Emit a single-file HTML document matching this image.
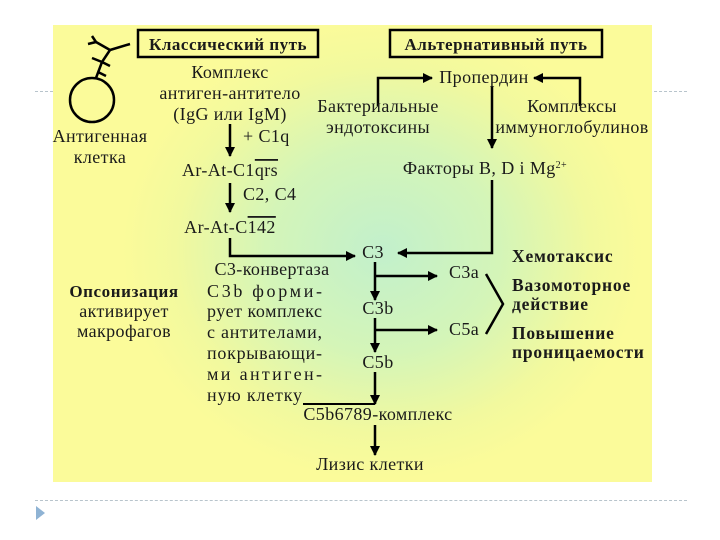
<!DOCTYPE html>
<html><head><meta charset="utf-8"><style>
body{margin:0;width:720px;height:540px;background:#fff;position:relative;overflow:hidden;font-family:"Liberation Serif","Noto Serif CJK SC",serif;}
.dash{position:absolute;left:35px;width:652px;border-top:1px dashed #b8c4cc;}
#panel{position:absolute;left:53px;top:25px;width:599px;height:457px;
background:radial-gradient(ellipse 260px 230px at 330px 225px,#c2f0cc 0%,#d4f5b8 45%,#f2f99e 80%,#fbfb9a 100%);}
svg{position:absolute;left:0;top:0}
text{font-family:"Liberation Serif",serif;fill:#1a1a1a}
.ov{text-decoration:overline}
</style></head><body>
<div class="dash" style="top:91px"></div>
<div class="dash" style="top:500px"></div>
<div style="position:absolute;left:36px;top:506px;width:0;height:0;border-top:7px solid transparent;border-bottom:7px solid transparent;border-left:9px solid #8fb3d4"></div>
<div id="panel"></div>
<svg width="720" height="540">
<defs><marker id="a" markerWidth="10" markerHeight="10" refX="9" refY="5" orient="auto" markerUnits="userSpaceOnUse"><path d="M0,0 L10,5 L0,10 z" fill="#000"/></marker></defs>
<g stroke="#000" stroke-width="2.5" fill="none">
<rect x="138" y="30" width="180" height="27"/>
<rect x="390" y="30" width="212" height="27"/>
<circle cx="92" cy="100" r="22" stroke-width="2.5"/>
<path d="M96,78 L102,62 L110,50 L130,44 M102,62 L92,58 M110,50 L96,42 L92,36 M96,42 L88,44 M102,62 L110,66 M98,72 L106,76"/>
<g marker-end="url(#a)">
<path d="M230,124 V156"/>
<path d="M230,183 V212"/>
<path d="M230,238 V256 H355"/>
<path d="M378,106 V78 H432"/>
<path d="M580,106 V78 H534"/>
<path d="M492,86 V148"/>
<path d="M492,180 V253 H398"/>
<path d="M375,262 V300"/>
<path d="M375,276 H437"/>
<path d="M375,318 V352"/>
<path d="M375,330 H437"/>
<path d="M375,372 V404"/>
<path d="M375,425 V455"/>
</g>
<path d="M303,404 H375" stroke-width="2"/>
<path d="M486,274 L503,304 L486,334" stroke-width="2.5"/>
</g>
<g font-size="18" letter-spacing="0.4">
<text x="228" y="50" text-anchor="middle" font-weight="bold" font-size="17" letter-spacing="0.5">Классический путь</text>
<text x="496" y="50" text-anchor="middle" font-weight="bold" font-size="17" letter-spacing="0.5">Альтернативный путь</text>
<g text-anchor="middle">
<text x="230" y="78">Комплекс</text>
<text x="230" y="99">антиген-антитело</text>
<text x="230" y="120">(IgG или IgM)</text>
<text x="100" y="142">Антигенная</text>
<text x="100" y="163">клетка</text>
<text x="230" y="176">Ar-At-C1<tspan class="ov">qrs</tspan></text>
<text x="230" y="233">Ar-At-C<tspan class="ov">142</tspan></text>
<text x="272" y="275">C3-конвертаза</text>
<text x="484" y="83">Пропердин</text>
<text x="378" y="112">Бактериальные</text>
<text x="378" y="133">эндотоксины</text>
<text x="572" y="112">Комплексы</text>
<text x="572" y="133">иммуноглобулинов</text>
<text x="485" y="174">Факторы B, D i Mg<tspan font-size="10" dy="-6">2+</tspan></text>
<text x="373" y="258">C3</text>
<text x="378" y="314">C3b</text>
<text x="378" y="368">C5b</text>
<text x="378" y="420">C5b6789-комплекс</text>
<text x="370" y="470">Лизис клетки</text>
<text x="124" y="297" font-weight="bold" font-size="17" letter-spacing="0.6">Опсонизация</text>
<text x="124" y="317">активирует</text>
<text x="124" y="337">макрофагов</text>
</g>
<text x="243" y="142">+ C1q</text>
<text x="243" y="200">C2, C4</text>
<text x="449" y="278">C3a</text>
<text x="449" y="335">C5a</text>
<g letter-spacing="0">
<text x="207" y="297" textLength="115" lengthAdjust="spacing">C3b форми-</text>
<text x="207" y="317" textLength="115" lengthAdjust="spacing">рует комплекс</text>
<text x="207" y="338" textLength="115" lengthAdjust="spacing">с антителами,</text>
<text x="207" y="359" textLength="115" lengthAdjust="spacing">покрывающи-</text>
<text x="207" y="380" textLength="115" lengthAdjust="spacing">ми антиген-</text>
<text x="207" y="401" textLength="95" lengthAdjust="spacing">ную клетку</text>
</g>
<g font-weight="bold" font-size="17.5" letter-spacing="0.8">
<text x="512" y="262">Хемотаксис</text>
<text x="512" y="291">Вазомоторное</text>
<text x="512" y="310">действие</text>
<text x="512" y="339">Повышение</text>
<text x="512" y="358">проницаемости</text>
</g>
</g>
</svg>
</body></html>
